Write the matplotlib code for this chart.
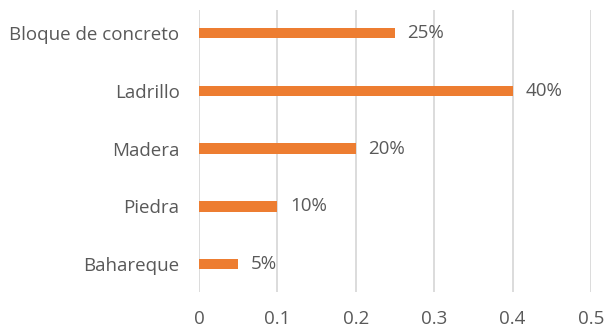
import matplotlib
matplotlib.use("Agg")
import matplotlib.pyplot as plt

# Materiales de construcción (de arriba hacia abajo en el gráfico)
materiales = ["Bloque de concreto", "Ladrillo", "Madera", "Piedra", "Bahareque"]
proporciones = [0.25, 0.40, 0.20, 0.10, 0.05]
ticks_x = [0, 0.1, 0.2, 0.3, 0.4, 0.5]

NARANJA = "#ED7D31"
GRIS_TEXTO = "#595959"
GRIS_GRILLA = "#D9D9D9"

plt.rcParams["font.family"] = ["Open Sans", "DejaVu Sans"]

fig = plt.figure(figsize=(6.06, 3.28), dpi=100)
ax = fig.add_axes([199 / 606, 1 - 292 / 328, 392 / 606, 282 / 328])

posiciones = list(range(len(materiales)))[::-1]
ax.barh(posiciones, proporciones, height=0.18, color=NARANJA, zorder=3)

for y, v in zip(posiciones, proporciones):
    ax.text(v + 0.016, y, f"{v:.0%}", va="center", ha="left",
            fontsize=13.5, color=GRIS_TEXTO)

ax.set_xlim(0, 0.5)
ax.set_ylim(-0.48, 4.4)
ax.set_xticks(ticks_x)
ax.set_xticklabels([f"{t:g}" for t in ticks_x])
ax.set_yticks(posiciones)
ax.set_yticklabels(materiales)
ax.tick_params(axis="both", length=0, labelsize=13.5, colors=GRIS_TEXTO)
ax.tick_params(axis="x", pad=13)
ax.tick_params(axis="y", pad=14)

ax.grid(axis="x", color=GRIS_GRILLA, lw=1.3, zorder=0)
for lado in ax.spines.values():
    lado.set_visible(False)

fig.savefig("out.png", dpi=100)
